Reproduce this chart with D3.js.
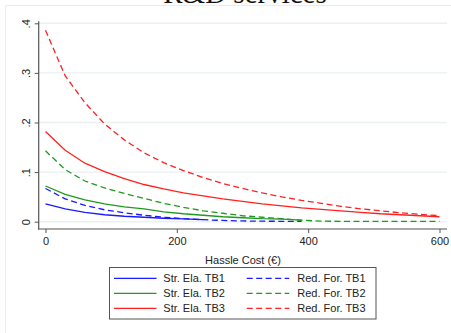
<!DOCTYPE html>
<html>
<head>
<meta charset="utf-8">
<script src="https://cdn.jsdelivr.net/npm/d3@7"></script>
<style>
  html, body { margin: 0; padding: 0; background: #fff; }
  svg { display: block; }
</style>
</head>
<body>
<svg id="chart" width="451" height="333"></svg>
<script>
// Hassle cost grid (€), shared by every series
const hassleCost = [0, 30, 60, 90, 120, 150, 180, 210, 240, 270, 300, 330, 360, 390, 420, 450, 480, 510, 540, 570, 600];

// Take-up by scenario; shorter series stop where they reach zero
const strElaTB1 = [0.036, 0.026, 0.019, 0.014, 0.011, 0.009, 0.007, 0.0055, 0.004];
const redForTB1 = [0.067, 0.046, 0.033, 0.024, 0.018, 0.013, 0.009, 0.006, 0.004, 0.0025, 0.0015, 0.001, 0.0008, 0.0005];
const strElaTB2 = [0.072, 0.055, 0.044, 0.036, 0.030, 0.026, 0.020, 0.016, 0.013, 0.010, 0.008, 0.006, 0.005, 0.003];
const redForTB2 = [0.143, 0.105, 0.082, 0.068, 0.057, 0.047, 0.037, 0.029, 0.022, 0.017, 0.012, 0.009, 0.006, 0.003, 0.001, 0.0008, 0.0008, 0.0008, 0.0008, 0.0008, 0.0008];
const strElaTB3 = [0.182, 0.144, 0.118, 0.101, 0.087, 0.075, 0.066, 0.058, 0.052, 0.046, 0.041, 0.036, 0.032, 0.028, 0.025, 0.022, 0.019, 0.016, 0.014, 0.012, 0.010];
const redForTB3 = [0.386, 0.294, 0.240, 0.197, 0.165, 0.139, 0.119, 0.103, 0.089, 0.077, 0.067, 0.058, 0.050, 0.043, 0.037, 0.031, 0.026, 0.022, 0.018, 0.015, 0.012];

const xTicks = [0, 200, 400, 600];
const yTicks = [0, 0.1, 0.2, 0.3, 0.4];
const yTickLabels = ["0", ".1", ".2", ".3", ".4"];

const seriesNames = ["Str. Ela. TB1", "Red. For. TB1", "Str. Ela. TB2", "Red. For. TB2", "Str. Ela. TB3", "Red. For. TB3"];
const seriesValues = [strElaTB1, redForTB1, strElaTB2, redForTB2, strElaTB3, redForTB3];

const colors = { TB1: "#1a1aff", TB2: "#1f9a1f", TB3: "#ff2020" };
const styleOf = name => ({
  color: colors[name.slice(-3)],
  dashed: name.startsWith("Red.")
});

const svg = d3.select("#chart");
const font = "'Liberation Sans', Arial, sans-serif";

// Graph region frame
svg.append("rect")
  .attr("x", 5.5).attr("y", 5.5)
  .attr("width", 460).attr("height", 340)
  .attr("fill", "none").attr("stroke", "#e8eeee").attr("stroke-width", 1);

// Title
svg.append("text")
  .attr("x", 245).attr("y", 3)
  .attr("text-anchor", "middle")
  .attr("font-family", "'Liberation Serif', 'Times New Roman', serif")
  .attr("font-size", 29)
  .attr("fill", "#111")
  .text("R&D services");

const x = d3.scaleLinear().domain([0, 600]).range([45.5, 439.5]);
const y = d3.scaleLinear().domain([0, 0.4]).range([221.7, 23.3]);

const axisLeftX = 38.7;
const axisBottomY = 229;
const plotRight = 447;

// Horizontal grid lines
svg.append("g").selectAll("line")
  .data(yTicks).join("line")
  .attr("x1", axisLeftX).attr("x2", plotRight)
  .attr("y1", d => y(d)).attr("y2", d => y(d))
  .attr("stroke", "#e9f1f2").attr("stroke-width", 1.4);

// Y axis, labels turned to read bottom-to-top
const yAxis = svg.append("g")
  .attr("transform", `translate(${axisLeftX},0)`)
  .call(d3.axisLeft(y).tickValues(yTicks).tickFormat((d, i) => yTickLabels[i]).tickSize(4).tickPadding(5));
yAxis.select(".domain").attr("stroke", "#555").attr("stroke-width", 1.2)
  .attr("d", `M0,${y(0.4) - 2}V${axisBottomY + 0.6}`);
yAxis.selectAll(".tick line").attr("stroke", "#555");
yAxis.selectAll(".tick text")
  .attr("font-family", font).attr("font-size", 11).attr("fill", "#222")
  .attr("x", 0).attr("y", 0).attr("dy", null)
  .attr("transform", "translate(-8.5,0) rotate(-90)")
  .attr("text-anchor", "middle");

// X axis
const xAxis = svg.append("g")
  .attr("transform", `translate(0,${axisBottomY})`)
  .call(d3.axisBottom(x).tickValues(xTicks).tickFormat(d3.format("d")).tickSize(4).tickPadding(4));
xAxis.select(".domain").attr("stroke", "#555").attr("stroke-width", 1.2)
  .attr("d", `M${axisLeftX - 0.6},0H${plotRight}`);
xAxis.selectAll(".tick line").attr("stroke", "#555");
xAxis.selectAll(".tick text")
  .attr("font-family", font).attr("font-size", 11).attr("fill", "#222");

svg.append("text")
  .attr("x", 243).attr("y", 264)
  .attr("text-anchor", "middle")
  .attr("font-family", font).attr("font-size", 11).attr("fill", "#222")
  .text("Hassle Cost (€)");

// Curves
const line = d3.line()
  .x((d, i) => x(hassleCost[i]))
  .y(d => y(d));

svg.append("g").selectAll("path")
  .data(seriesNames.map((name, k) => ({ name, values: seriesValues[k] })))
  .join("path")
  .attr("d", d => line(d.values))
  .attr("fill", "none")
  .attr("stroke", d => styleOf(d.name).color)
  .attr("stroke-width", 1.3)
  .attr("stroke-dasharray", d => styleOf(d.name).dashed ? "6,3.5" : null);

// Legend
const legend = svg.append("g");
legend.append("rect")
  .attr("x", 109.5).attr("y", 267.5)
  .attr("width", 266.5).attr("height", 51.5)
  .attr("fill", "#fff").attr("stroke", "#555").attr("stroke-width", 1);

const legendItems = seriesNames.map((name, k) => ({ name, col: k % 2, row: Math.floor(k / 2) }));
const colX = [114, 246.7];
const textX = [163.3, 297.3];
const rowY = [278.3, 293.3, 308.3];

const item = legend.selectAll("g.item").data(legendItems).join("g").attr("class", "item");
item.append("line")
  .attr("x1", d => colX[d.col]).attr("x2", d => colX[d.col] + 42.5)
  .attr("y1", d => rowY[d.row]).attr("y2", d => rowY[d.row])
  .attr("stroke", d => styleOf(d.name).color)
  .attr("stroke-width", 1.3)
  .attr("stroke-dasharray", d => styleOf(d.name).dashed ? "6,3.5" : null);
item.append("text")
  .attr("x", d => textX[d.col]).attr("y", d => rowY[d.row] + 4)
  .attr("font-family", font).attr("font-size", 11).attr("fill", "#222")
  .text(d => d.name);
</script>
</body>
</html>
